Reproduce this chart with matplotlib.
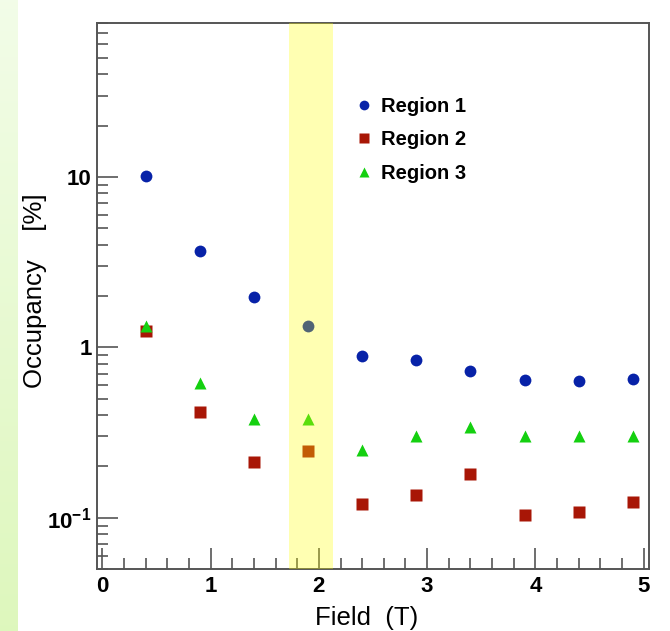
import numpy as np
import matplotlib
matplotlib.use("Agg")
import matplotlib.pyplot as plt
from matplotlib.ticker import FixedLocator, NullFormatter, FuncFormatter

field = [0.4, 0.9, 1.4, 1.9, 2.4, 2.9, 3.4, 3.9, 4.4, 4.9]
region1 = [10.1, 3.67, 1.97, 1.33, 0.885, 0.84, 0.73, 0.64, 0.63, 0.648]
region2 = [1.24, 0.415, 0.211, 0.245, 0.121, 0.135, 0.181, 0.104, 0.108, 0.124]
region3 = [1.33, 0.614, 0.377, 0.377, 0.248, 0.303, 0.339, 0.303, 0.303, 0.30]
band = (1.72, 2.13)

plt.rcParams['font.family'] = ['Liberation Sans', 'DejaVu Sans']
plt.rcParams['mathtext.fontset'] = 'custom'
plt.rcParams['mathtext.rm'] = 'Liberation Sans'
plt.rcParams['mathtext.bf'] = 'Liberation Sans:bold'
plt.rcParams['axes.unicode_minus'] = False

fig = plt.figure(figsize=(6.70, 6.31), dpi=100)

# left green gradient strip
gax = fig.add_axes([0, 0, 18/670, 1])
grad = np.linspace(0, 1, 256).reshape(-1, 1)
top = np.array([0.95, 0.99, 0.91])
bot = np.array([0.87, 0.97, 0.74])
img = top[None, None, :] * (1 - grad[:, :, None]) + bot[None, None, :] * grad[:, :, None]
gax.imshow(img, aspect='auto', extent=[0, 1, 0, 1])
gax.axis('off')

ax = fig.add_axes([97/670, 62/631, 552/670, 546/631])
ax.set_yscale('log')
ax.set_xlim(-0.05, 5.05)
ax.set_ylim(0.05, 80)

ax.plot(field, region1, 'o', color='#0722a8', ms=8.5, mec='none', label='Region 1', zorder=3)
ax.plot(field, region2, 's', color='#a81606', ms=8, mec='none', label='Region 2', zorder=3)
ax.plot(field, region3, '^', color='#14d010', ms=8.5, mec='none', label='Region 3', zorder=3)

ax.axvspan(band[0], band[1], color=(1.0, 1.0, 0.0), alpha=0.3, lw=0, zorder=4)

for s in ax.spines.values():
    s.set_color('#555555')
    s.set_linewidth(1.4)

ax.xaxis.set_major_locator(FixedLocator([0, 1, 2, 3, 4, 5]))
ax.xaxis.set_minor_locator(FixedLocator([i * 0.2 for i in range(26) if i % 5 != 0]))
ax.yaxis.set_major_locator(FixedLocator([0.1, 1, 10]))
yminor = [m * 10.0**k for k in (-2, -1, 0, 1) for m in range(2, 10)]
ax.yaxis.set_minor_locator(FixedLocator(yminor))
ax.yaxis.set_minor_formatter(NullFormatter())

def yfmt(v, p):
    if abs(v - 0.1) < 1e-9:
        return r'$\mathbf{10^{-1}}$'
    if abs(v - 1) < 1e-9:
        return '1'
    if abs(v - 10) < 1e-9:
        return '10'
    return ''
ax.yaxis.set_major_formatter(FuncFormatter(yfmt))

ax.tick_params(which='both', direction='in', color='#555555', width=1.2,
               top=False, right=False)
ax.tick_params(which='major', length=15, labelsize=16, pad=5)
ax.tick_params(axis='y', which='major', pad=3.8)
ax.tick_params(which='minor', length=8)
for lab in ax.get_xticklabels() + ax.get_yticklabels():
    lab.set_fontweight('bold')

ax.set_xlabel('Field  (T)', fontsize=18.5)
ax.xaxis.label.set_verticalalignment('top')
ax.xaxis.set_label_coords(0.488, -0.068)
ax.set_ylabel('Occupancy    [%]', fontsize=18.5)
ax.yaxis.set_label_coords(-0.09, 0.51)

leg = ax.legend(loc='upper left', bbox_to_anchor=(0.437, 0.898), frameon=False,
                prop={'weight': 'bold', 'size': 14.5}, handlelength=0.8,
                handletextpad=0.4, labelspacing=0.72, numpoints=1)
for h in leg.legend_handles:
    h.set_markersize(7)

fig.savefig('out.png', dpi=100)
